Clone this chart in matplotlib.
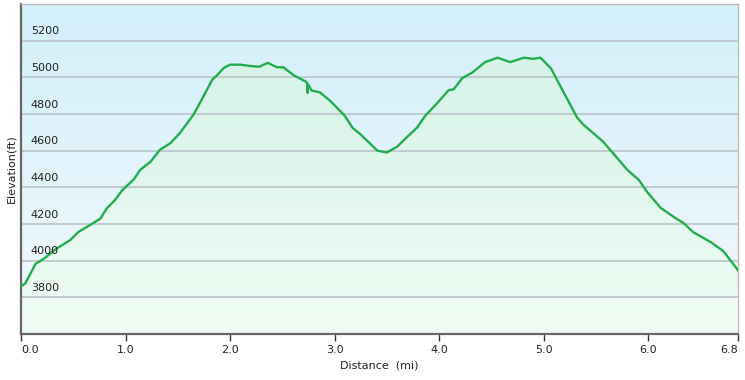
import numpy as np
import matplotlib
matplotlib.use("Agg")
import matplotlib.pyplot as plt
from matplotlib.colors import LinearSegmentedColormap

# Elevation profile
dist_mi = [0.00, 0.01, 0.04, 0.09, 0.14, 0.22, 0.34, 0.47, 0.55, 0.66,
           0.76, 0.82, 0.90, 0.97, 1.08, 1.14, 1.24, 1.33, 1.43, 1.52,
           1.65, 1.72, 1.83, 1.88, 1.94, 2.00, 2.10, 2.19, 2.28, 2.36,
           2.45, 2.51, 2.61, 2.72, 2.74, 2.741, 2.743, 2.78, 2.86, 2.96,
           3.10, 3.17, 3.25, 3.41, 3.50, 3.60, 3.68, 3.79, 3.87, 3.98,
           4.09, 4.14, 4.22, 4.32, 4.44, 4.56, 4.68, 4.81, 4.90, 4.97,
           5.07, 5.32, 5.38, 5.57, 5.66, 5.80, 5.91, 5.99, 6.12, 6.26,
           6.34, 6.43, 6.60, 6.72, 6.86]
elev_ft = [3864, 3864, 3875, 3929, 3983, 4011, 4066, 4112, 4157, 4194,
           4230, 4285, 4331, 4385, 4444, 4495, 4540, 4605, 4641, 4696,
           4796, 4869, 4987, 5014, 5051, 5069, 5069, 5062, 5058, 5079,
           5055, 5055, 5011, 4978, 4968, 4915, 4966, 4928, 4918, 4871,
           4789, 4726, 4688, 4600, 4590, 4622, 4667, 4726, 4792, 4858,
           4929, 4935, 4995, 5027, 5083, 5107, 5083, 5107, 5101, 5107,
           5049, 4781, 4742, 4649, 4589, 4496, 4441, 4375, 4288, 4233,
           4205, 4156, 4101, 4052, 3948]

x_ticks = [0, 1, 2, 3, 4, 5, 6, 6.86]
x_tick_labels = ["0.0", "1.0", "2.0", "3.0", "4.0", "5.0", "6.0", "6.8"]
y_ticks = [3800, 4000, 4200, 4400, 4600, 4800, 5000, 5200]
y_min, y_max = 3600, 5400
x_max = 6.86

fig = plt.figure(figsize=(7.45, 3.8), dpi=100)
ax = fig.add_axes([21 / 745, 46 / 380, 717 / 745, 330 / 380])
ax.set_xlim(0, x_max)
ax.set_ylim(y_min, y_max)

# sky background: light blue at top fading to near white
sky = LinearSegmentedColormap.from_list("sky", ["#f3f9fd", "#d2effa"])
grad = np.linspace(0, 1, 256).reshape(-1, 1)
ax.imshow(grad, cmap=sky, origin="lower", aspect="auto",
          extent=[0, 1, 0, 1], transform=ax.transAxes, zorder=0)

# green gradient fill under the profile
fill = ax.fill_between(dist_mi, elev_ft, y_min, color="none", zorder=1)
mint = LinearSegmentedColormap.from_list("mint", ["#effcf4", "#d6f3e9"])
img = ax.imshow(grad, cmap=mint, origin="lower", aspect="auto",
                extent=[0, x_max, y_min, 5120], zorder=1)
img.set_clip_path(fill.get_paths()[0], transform=ax.transData)

for y in y_ticks:
    ax.axhline(y, color="#bcc7cb", lw=1.3, zorder=2)
    ax.annotate(str(y), xy=(0, y), xycoords=ax.get_yaxis_transform(),
                xytext=(7, 3), textcoords="offset points",
                fontsize=8, color="#222222", va="bottom", ha="left",
                zorder=4)

ax.plot(dist_mi, elev_ft, color="#22ae4c", lw=1.7, zorder=3)

ax.set_yticks([])
ax.set_xticks(x_ticks)
ax.set_xticklabels(x_tick_labels, fontsize=8, color="#222222")
ax.tick_params(axis="x", length=5, width=1, color="#333333", pad=3)
labels = ax.get_xticklabels()
labels[0].set_ha("left")
labels[-1].set_ha("right")

for side in ("left", "bottom"):
    ax.spines[side].set_color("#666666")
    ax.spines[side].set_linewidth(1.6)
for side in ("top", "right"):
    ax.spines[side].set_color("#bbbbbb")
    ax.spines[side].set_linewidth(1.0)

ax.set_xlabel("Distance  (mi)", fontsize=8, color="#222222", labelpad=4)
fig.text(11 / 745, 0.555, "Elevation(ft)", rotation=90, fontsize=8,
         color="#222222", ha="center", va="center")

fig.savefig("out.png", dpi=100, facecolor="white")
